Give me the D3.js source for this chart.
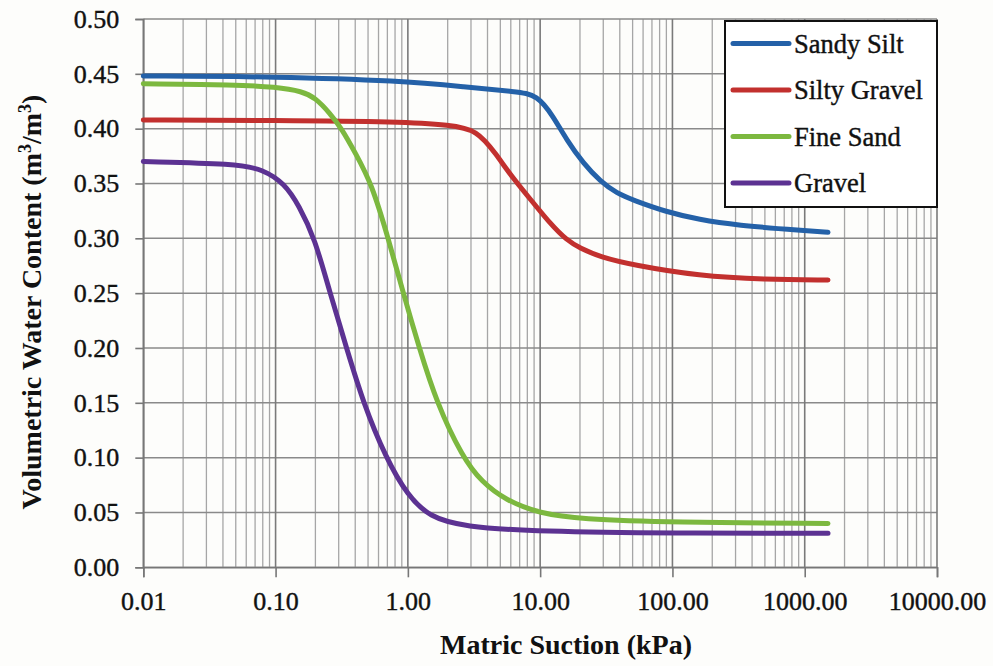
<!DOCTYPE html>
<html>
<head>
<meta charset="utf-8">
<script src="https://cdn.jsdelivr.net/npm/d3@7"></script>
<style>
  html, body { margin: 0; padding: 0; background: #fdfdfb; }
  svg { display: block; }
</style>
</head>
<body>
<svg id="chart" width="993" height="666"></svg>
<script>
// ---- data ----
const seriesNames = ["Sandy Silt", "Silty Gravel", "Fine Sand", "Gravel"];
const seriesColors = ["#2461a8", "#c2302e", "#7cb83f", "#5c3292"];

const sandySiltSuction = [0.01, 0.1, 0.88, 2.76, 6.6, 9.5, 12.6, 15.8, 21.3, 28.5, 38, 50, 90, 160, 300, 1000, 1500];
const sandySiltTheta   = [0.448, 0.4475, 0.4437, 0.438, 0.4337, 0.431, 0.411, 0.39, 0.368, 0.352, 0.341, 0.335, 0.324, 0.317, 0.312, 0.307, 0.3055];

const siltyGravelSuction = [0.01, 0.1, 0.88, 2.1, 3.33, 4.6, 6.2, 8.9, 12, 15.8, 20, 28.5, 50, 160, 500, 1500];
const siltyGravelTheta   = [0.408, 0.4075, 0.4063, 0.4033, 0.3988, 0.3775, 0.355, 0.3323, 0.313, 0.2985, 0.291, 0.283, 0.2757, 0.2656, 0.2625, 0.262];

const fineSandSuction = [0.01, 0.05, 0.1, 0.16, 0.2, 0.258, 0.316, 0.4, 0.532, 0.711, 0.923, 1.22, 1.65, 2.6, 3.6, 5.5, 10, 20, 100, 1500];
const fineSandTheta   = [0.441, 0.440, 0.438, 0.434, 0.428, 0.414, 0.400, 0.378, 0.350, 0.300, 0.250, 0.200, 0.150, 0.100, 0.078, 0.061, 0.049, 0.044, 0.041, 0.040];

const gravelSuction = [0.01, 0.05, 0.08, 0.117, 0.15, 0.198, 0.258, 0.344, 0.46, 0.68, 1.0, 1.46, 2.6, 10, 100, 1500];
const gravelTheta   = [0.370, 0.368, 0.363, 0.350, 0.330, 0.300, 0.250, 0.200, 0.150, 0.100, 0.065, 0.046, 0.037, 0.0325, 0.031, 0.031];

const xTickValues = [0.01, 0.1, 1, 10, 100, 1000, 10000];
const yTickValues = [0, 0.05, 0.10, 0.15, 0.20, 0.25, 0.30, 0.35, 0.40, 0.45, 0.50];

const xTitle = "Matric Suction (kPa)";

// ---- layout ----
const FONT = "'Liberation Serif', 'Times New Roman', serif";
const svg = d3.select("#chart");
const pLeft = 143.3, pRight = 937, pTop = 19, pBottom = 567.3;

const x = d3.scaleLog().domain([0.01, 10000]).range([pLeft, pRight]);
const y = d3.scaleLinear().domain([0, 0.5]).range([pBottom, pTop]);

// minor vertical grid
const minorVals = [];
for (let e = -2; e < 4; e++) {
  for (let k = 2; k <= 9; k++) minorVals.push(k * Math.pow(10, e));
}
const grid = svg.append("g");
grid.selectAll("line.minor").data(minorVals).enter().append("line")
  .attr("x1", d => x(d)).attr("x2", d => x(d))
  .attr("y1", pTop).attr("y2", pBottom)
  .attr("stroke", "#a6a6a6").attr("stroke-width", 1.3);

// horizontal grid
grid.selectAll("line.h").data(yTickValues).enter().append("line")
  .attr("x1", pLeft).attr("x2", pRight)
  .attr("y1", d => y(d)).attr("y2", d => y(d))
  .attr("stroke", "#8a8a8a").attr("stroke-width", 1.5);

// major vertical grid
grid.selectAll("line.major").data(xTickValues).enter().append("line")
  .attr("x1", d => x(d)).attr("x2", d => x(d))
  .attr("y1", pTop).attr("y2", pBottom)
  .attr("stroke", "#7a7a7a").attr("stroke-width", 1.6);

// axes
const xAxis = d3.axisBottom(x).tickValues(xTickValues).tickFormat(d3.format(".2f"))
  .tickSize(10).tickPadding(14);
const gx = svg.append("g").attr("transform", `translate(0,${pBottom})`).call(xAxis)
  .attr("font-family", FONT).attr("font-size", 26);
gx.select(".domain").attr("stroke", "#777").attr("stroke-width", 1.6);
gx.selectAll(".tick line").attr("stroke", "#777").attr("stroke-width", 1.6);
gx.selectAll(".tick text").attr("fill", "#111").attr("stroke", "#111").attr("stroke-width", 0.4);

const yAxis = d3.axisLeft(y).tickValues(yTickValues).tickFormat(d3.format(".2f"))
  .tickSize(8).tickPadding(16);
const gy = svg.append("g").attr("transform", `translate(${pLeft},0)`).call(yAxis)
  .attr("font-family", FONT).attr("font-size", 26);
gy.select(".domain").attr("stroke", "#777").attr("stroke-width", 1.6);
gy.selectAll(".tick line").attr("stroke", "#777").attr("stroke-width", 1.6);
gy.selectAll(".tick text").attr("fill", "#111").attr("stroke", "#111").attr("stroke-width", 0.4);

// series
const series = [
  { name: seriesNames[0], color: seriesColors[0], xs: sandySiltSuction, ys: sandySiltTheta },
  { name: seriesNames[1], color: seriesColors[1], xs: siltyGravelSuction, ys: siltyGravelTheta },
  { name: seriesNames[2], color: seriesColors[2], xs: fineSandSuction, ys: fineSandTheta },
  { name: seriesNames[3], color: seriesColors[3], xs: gravelSuction, ys: gravelTheta }
];
const line = d3.line().x(d => x(d[0])).y(d => y(d[1])).curve(d3.curveBasis);
svg.append("g").selectAll("path").data(series).enter().append("path")
  .attr("d", s => line(s.xs.map((v, i) => [v, s.ys[i]])))
  .attr("fill", "none").attr("stroke", s => s.color)
  .attr("stroke-width", 5).attr("stroke-linecap", "round").attr("stroke-linejoin", "round");

// legend
const lg = svg.append("g").attr("font-family", FONT);
lg.append("rect").attr("x", 725).attr("y", 21).attr("width", 212).attr("height", 186)
  .attr("fill", "#fff").attr("stroke", "#111").attr("stroke-width", 2);
const rowY = [43.5, 90, 136.5, 183];
series.forEach((s, i) => {
  lg.append("line").attr("x1", 733).attr("x2", 789).attr("y1", rowY[i]).attr("y2", rowY[i])
    .attr("stroke", s.color).attr("stroke-width", 5).attr("stroke-linecap", "round");
  lg.append("text").attr("x", 794).attr("y", rowY[i] + 9).attr("font-size", 26.5)
    .attr("fill", "#111").attr("stroke", "#111").attr("stroke-width", 0.4).text(s.name);
});

// axis titles
svg.append("text").attr("x", 566).attr("y", 654).attr("text-anchor", "middle")
  .attr("font-family", FONT).attr("fill", "#111")
  .attr("font-size", 28).attr("font-weight", "bold").text(xTitle);

const yt = svg.append("text").attr("transform", "translate(41,302) rotate(-90)")
  .attr("font-family", FONT).attr("fill", "#111")
  .attr("text-anchor", "middle").attr("font-size", 28).attr("font-weight", "bold");
yt.append("tspan").text("Volumetric Water Content (m");
yt.append("tspan").attr("dy", -10).attr("font-size", 18).text("3");
yt.append("tspan").attr("dy", 10).text("/m");
yt.append("tspan").attr("dy", -10).attr("font-size", 18).text("3");
yt.append("tspan").attr("dy", 10).text(")");
</script>
</body>
</html>
